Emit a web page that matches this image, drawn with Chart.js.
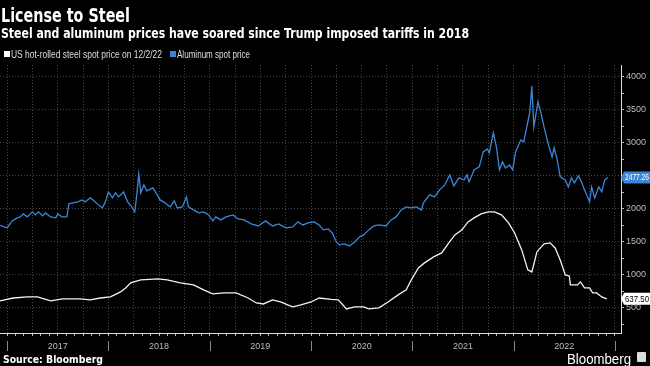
<!DOCTYPE html>
<html>
<head>
<meta charset="utf-8">
<script src="https://cdn.jsdelivr.net/npm/chart.js@4.4.1/dist/chart.umd.min.js"></script>
<style>
  html, body { margin: 0; padding: 0; background: #000; width: 650px; height: 366px; overflow: hidden; }
  #wrap { position: relative; width: 650px; height: 366px; }
  #chart { position: absolute; left: 0; top: 0; }
  .txt { position: absolute; white-space: nowrap; color: #fff; transform-origin: 0 0; line-height: 1; }
  .sq { position: absolute; width: 6px; height: 6px; }
</style>
</head>
<body>
<div id="wrap">
  <canvas id="chart" width="650" height="366"></canvas>
  <div class="txt fit" data-w="129" style="left:1px;top:3px;font:bold 20px 'DejaVu Sans'">License to Steel</div>
  <div class="txt fit" data-w="468" style="left:1px;top:25px;font:bold 14px 'DejaVu Sans'">Steel and aluminum prices have soared since Trump imposed tariffs in 2018</div>
  <div class="sq" style="left:4px;top:51px;background:#fff"></div>
  <div class="txt fit" data-w="151" style="left:11px;top:49px;font:10px 'Liberation Sans';color:#ddd">US hot-rolled steel spot price on 12/2/22</div>
  <div class="sq" style="left:170px;top:51px;background:#3b86d6"></div>
  <div class="txt fit" data-w="73" style="left:177px;top:49px;font:10px 'Liberation Sans';color:#ddd">Aluminum spot price</div>
  <div class="txt fit" data-w="100" style="left:3px;top:353px;font:bold 11px 'DejaVu Sans'">Source: Bloomberg</div>
  <div class="txt fit" data-w="64" style="left:567px;top:350px;font:15px 'Liberation Sans'">Bloomberg</div>
  <div class="sq" style="left:637px;top:352px;width:9px;height:10px;background:#ddd;border-radius:1px"></div>
</div>
<script>
// tick labels
const years = ['2017', '2018', '2019', '2020', '2021', '2022'];
const yTicks = [500, 1000, 1500, 2000, 2500, 3000, 3500, 4000];

// Aluminum spot price (decimal year, USD/t)
const alDates = [2016.93, 2017.00, 2017.05, 2017.10, 2017.13, 2017.16, 2017.20, 2017.25, 2017.28, 2017.31,
  2017.35, 2017.38, 2017.43, 2017.48, 2017.50, 2017.54, 2017.59, 2017.61, 2017.65, 2017.70,
  2017.74, 2017.77, 2017.82, 2017.85, 2017.89, 2017.94, 2017.97, 2018.00, 2018.04, 2018.07,
  2018.10, 2018.15, 2018.19, 2018.23, 2018.26, 2018.28, 2018.30, 2018.32, 2018.35, 2018.38,
  2018.44, 2018.47, 2018.51, 2018.56, 2018.61, 2018.65, 2018.68, 2018.73, 2018.77, 2018.79,
  2018.84, 2018.89, 2018.94, 2018.99, 2019.03, 2019.06, 2019.11, 2019.16, 2019.23, 2019.28,
  2019.34, 2019.41, 2019.48, 2019.55, 2019.62, 2019.68, 2019.75, 2019.82, 2019.87, 2019.92,
  2019.97, 2020.03, 2020.08, 2020.12, 2020.17, 2020.21, 2020.25, 2020.28, 2020.33, 2020.38,
  2020.43, 2020.48, 2020.52, 2020.57, 2020.62, 2020.67, 2020.74, 2020.79, 2020.84, 2020.89,
  2020.94, 2020.99, 2021.04, 2021.09, 2021.11, 2021.17, 2021.22, 2021.27, 2021.32, 2021.37,
  2021.41, 2021.46, 2021.51, 2021.54, 2021.56, 2021.61, 2021.66, 2021.70, 2021.74, 2021.76,
  2021.80, 2021.83, 2021.86, 2021.89, 2021.92, 2021.96, 2021.99, 2022.02, 2022.07, 2022.10,
  2022.13, 2022.16, 2022.18, 2022.20, 2022.24, 2022.27, 2022.30, 2022.35, 2022.38, 2022.40,
  2022.43, 2022.46, 2022.51, 2022.54, 2022.57, 2022.60, 2022.64, 2022.67, 2022.70, 2022.75,
  2022.77, 2022.80, 2022.84, 2022.87, 2022.90, 2022.93];
const alValues = [1750, 1712, 1818, 1864, 1879, 1924, 1879, 1955, 1909, 1955,
  1894, 1939, 1879, 1864, 1924, 1879, 1879, 2076, 2091, 2106,
  2136, 2106, 2167, 2136, 2076, 2015, 2106, 2257, 2167, 2242,
  2182, 2257, 2106, 2030, 1955, 2212, 2530, 2242, 2363, 2273,
  2318, 2242, 2136, 2091, 2030, 2121, 2015, 2030, 2182, 2030,
  1985, 1939, 1955, 1909, 1818, 1879, 1833, 1879, 1909, 1848,
  1833, 1773, 1742, 1818, 1742, 1773, 1712, 1727, 1803, 1757,
  1788, 1803, 1757, 1682, 1697, 1636, 1500, 1455, 1470, 1439,
  1500, 1576, 1606, 1682, 1742, 1757, 1742, 1833, 1879, 1985,
  2030, 2015, 2030, 1985, 2091, 2212, 2182, 2288, 2363, 2515,
  2348, 2470, 2439, 2515, 2409, 2591, 2636, 2863, 2909, 2848,
  3151, 2939, 2591, 2712, 2621, 2666, 2591, 2863, 3045, 3015,
  3242, 3469, 3863, 3242, 3621, 3454, 3242, 2939, 2788, 2924,
  2742, 2485, 2439, 2333, 2470, 2394, 2500, 2409, 2288, 2106,
  2333, 2167, 2333, 2257, 2439, 2477.26];

// US hot-rolled steel spot price (decimal year, USD/short ton)
const stDates = [2016.93, 2017.06, 2017.20, 2017.30, 2017.43, 2017.55, 2017.72, 2017.82, 2017.92, 2018.02,
  2018.12, 2018.17, 2018.22, 2018.32, 2018.49, 2018.58, 2018.71, 2018.84, 2018.94, 2019.03,
  2019.14, 2019.26, 2019.38, 2019.46, 2019.53, 2019.62, 2019.70, 2019.77, 2019.82, 2019.90,
  2020.00, 2020.08, 2020.20, 2020.27, 2020.35, 2020.43, 2020.52, 2020.57, 2020.67, 2020.76,
  2020.86, 2020.94, 2020.99, 2021.06, 2021.12, 2021.21, 2021.29, 2021.36, 2021.42, 2021.49,
  2021.55, 2021.61, 2021.68, 2021.75, 2021.81, 2021.88, 2021.95, 2022.01, 2022.08, 2022.14,
  2022.18, 2022.23, 2022.30, 2022.36, 2022.41, 2022.46, 2022.51, 2022.55, 2022.56, 2022.63,
  2022.66, 2022.70, 2022.75, 2022.78, 2022.82, 2022.87, 2022.92];
const stValues = [606, 650, 667, 667, 606, 636, 636, 621, 650, 667,
  742, 803, 879, 924, 940, 924, 879, 848, 773, 712,
  727, 727, 650, 575, 560, 621, 590, 545, 515, 545,
  590, 650, 630, 621, 485, 515, 515, 485, 500, 590,
  697, 773, 924, 1106, 1182, 1273, 1333, 1485, 1606, 1682,
  1803, 1864, 1924, 1955, 1955, 1909, 1788, 1636, 1379, 1076,
  1045, 1348, 1470, 1485, 1409, 1227, 1000, 985, 848, 848,
  894, 803, 803, 727, 727, 667, 637.5];

const BLUE = '#3b86d6';
const toXY = (xs, ys) => xs.map((d, i) => ({ x: d, y: ys[i] }));
const near = (v, step) => Math.abs(v / step - Math.round(v / step)) < 1e-6;

// year separators, year labels and last-value tags
const extras = {
  id: 'extras',
  afterDraw(chart) {
    const { ctx, scales: { x, y } } = chart;
    ctx.save();
    ctx.strokeStyle = '#888';
    ctx.lineWidth = 1;
    const firstYear = +years[0];
    for (let yr = firstYear; yr <= firstYear + years.length; yr++) {
      const px = Math.round(x.getPixelForValue(yr)) + 0.5;
      ctx.beginPath();
      ctx.moveTo(px, 341);
      ctx.lineTo(px, 351);
      ctx.stroke();
    }
    ctx.fillStyle = '#bbb';
    ctx.font = '9px "Liberation Sans"';
    ctx.textAlign = 'center';
    ctx.textBaseline = 'middle';
    years.forEach(label => {
      ctx.fillText(label, x.getPixelForValue(+label + 0.5), 347);
    });

    const tag = (val, text, bg, fg) => {
      const py = y.getPixelForValue(val);
      ctx.fillStyle = bg;
      ctx.beginPath();
      ctx.moveTo(621, py);
      ctx.lineTo(624, py - 6);
      ctx.lineTo(650, py - 6);
      ctx.lineTo(650, py + 6);
      ctx.lineTo(624, py + 6);
      ctx.closePath();
      ctx.fill();
      ctx.fillStyle = fg;
      ctx.textAlign = 'left';
      ctx.font = '9px "Liberation Sans"';
      const w = ctx.measureText(text).width;
      const k = Math.min(1, 24 / w);
      ctx.save();
      ctx.translate(625, py + 0.5);
      ctx.scale(k, 1);
      ctx.fillText(text, 0, 0);
      ctx.restore();
    };
    tag(alValues[alValues.length - 1], alValues[alValues.length - 1].toFixed(2), BLUE, '#fff');
    tag(stValues[stValues.length - 1], stValues[stValues.length - 1].toFixed(2), '#fff', '#000');
    ctx.restore();
  }
};

new Chart(document.getElementById('chart'), {
  type: 'line',
  data: {
    datasets: [
      {
        label: 'Aluminum spot price',
        data: toXY(alDates, alValues),
        borderColor: BLUE,
        borderWidth: 1.3,
        pointRadius: 0,
        tension: 0,
      },
      {
        label: 'US hot-rolled steel spot price on 12/2/22',
        data: toXY(stDates, stValues),
        borderColor: '#f2f2f2',
        borderWidth: 1.3,
        pointRadius: 0,
        tension: 0,
      },
    ],
  },
  options: {
    responsive: false,
    animation: false,
    devicePixelRatio: 1,
    layout: { padding: { top: 65, bottom: 29, left: 0, right: 0 } },
    plugins: { legend: { display: false }, tooltip: { enabled: false } },
    scales: {
      x: {
        type: 'linear',
        min: 2016.93,
        max: 2023.06,
        ticks: { display: false },
        afterBuildTicks: s => {
          const t = [];
          for (let m = Math.ceil(s.min * 12); m <= Math.floor(s.max * 12); m++) t.push({ value: m / 12 });
          s.ticks = t;
        },
        grid: {
          color: c => (c.tick && near(c.tick.value, 0.25)) ? 'rgba(255,255,255,0.28)' : 'transparent',
          tickColor: '#bbb',
          tickLength: 3,
        },
        border: { color: '#ddd', width: 1, dash: [1, 2] },
        afterFit: s => { s.height = 4; },
      },
      y: {
        type: 'linear',
        position: 'right',
        min: 120,
        max: 4180,
        afterBuildTicks: s => {
          const t = [];
          for (let v = 250; v <= yTicks[yTicks.length - 1]; v += 250) t.push({ value: v });
          s.ticks = t;
        },
        ticks: {
          color: '#bbb',
          font: { family: 'Liberation Sans', size: 9 },
          padding: 2,
          callback: v => yTicks.includes(v) ? String(v) : '',
        },
        grid: {
          color: c => (c.tick && yTicks.includes(c.tick.value)) ? 'rgba(255,255,255,0.28)' : 'transparent',
          tickColor: '#bbb',
          tickLength: 3,
        },
        border: { color: '#ddd', width: 1, dash: [1, 2] },
        afterFit: s => { s.width = 29; },
      },
    },
  },
  plugins: [extras],
});

// squeeze the condensed-looking Bloomberg texts to their measured widths
document.querySelectorAll('.fit').forEach(el => {
  const w = el.getBoundingClientRect().width;
  el.style.transform = 'scaleX(' + (+el.dataset.w / w) + ')';
});
</script>
</body>
</html>
